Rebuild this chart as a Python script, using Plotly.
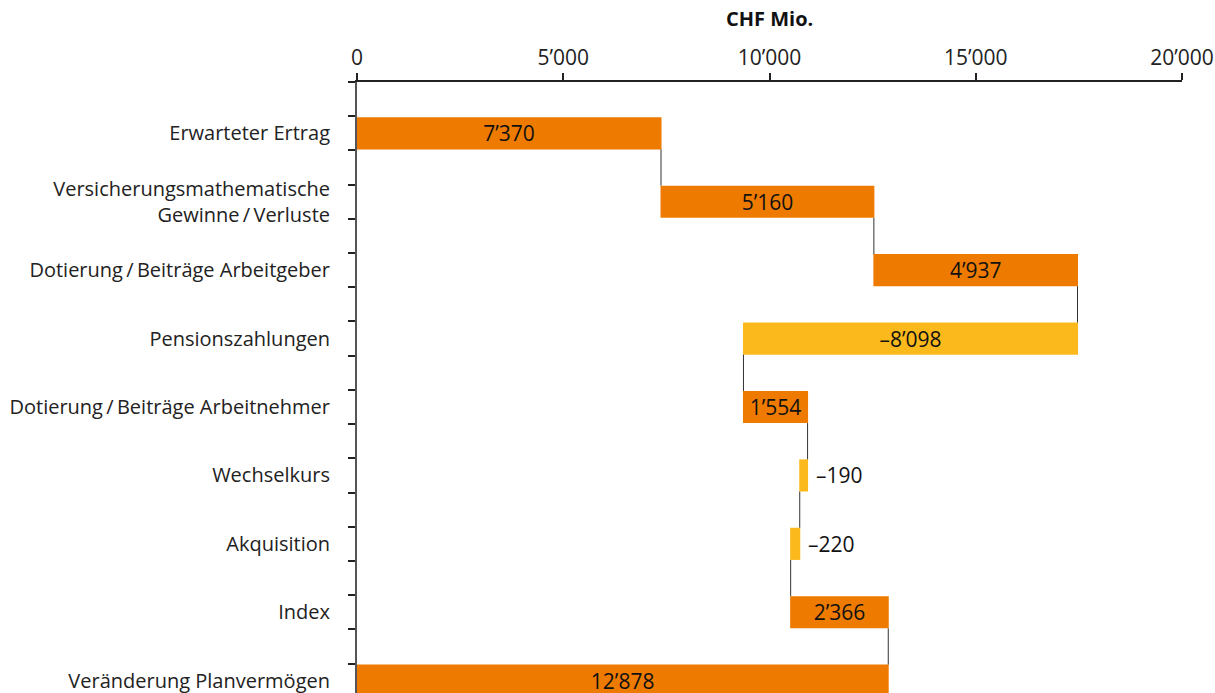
import plotly.graph_objects as go

# Pension asset movement, CHF million
categories = [
    "Erwarteter Ertrag",
    "Versicherungsmathematische<br>Gewinne\u2009/\u2009Verluste",
    "Dotierung\u2009/\u2009Beiträge Arbeitgeber",
    "Pensionszahlungen",
    "Dotierung\u2009/\u2009Beiträge Arbeitnehmer",
    "Wechselkurs",
    "Akquisition",
    "Index",
    "Veränderung Planvermögen",
]
values = [7370, 5160, 4937, -8098, 1554, -190, -220, 2366, 12878]
measures = ["relative"] * 8 + ["absolute"]
value_labels = ["7’370", "5’160", "4’937", "–8’098", "1’554", "–190", "–220", "2’366", "12’878"]
# labels drawn beside the bar (to the right) instead of inside it
outside_labels = [False, False, False, False, False, True, True, False, False]

x_ticks = [0, 5000, 10000, 15000, 20000]
x_tick_labels = ["0", "5’000", "10’000", "15’000", "20’000"]

ORANGE = "#EE7B00"
YELLOW = "#FBB91C"
FONT = "Open Sans"
LABEL_SIZE = 20
NUM_SIZE = 21

positions = list(range(len(categories)))

# running level before each step -> right edge of a decreasing bar
levels_before = []
level = 0
for v, m in zip(values, measures):
    levels_before.append(level)
    level = v if m == "absolute" else level + v

fig = go.Figure(
    go.Waterfall(
        orientation="h",
        y=positions,
        x=values,
        measure=measures,
        text=["" if o else t for t, o in zip(value_labels, outside_labels)],
        textposition="inside",
        insidetextanchor="middle",
        constraintext="none",
        textfont=dict(family=FONT, size=NUM_SIZE, color="#111111"),
        increasing=dict(marker=dict(color=ORANGE)),
        decreasing=dict(marker=dict(color=YELLOW)),
        totals=dict(marker=dict(color=ORANGE)),
        connector=dict(mode="between", line=dict(color="#333333", width=1)),
        width=0.47,
        hoverinfo="skip",
        cliponaxis=False,
    )
)

annotations = [
    dict(
        text="<b>CHF Mio.</b>",
        xref="paper",
        yref="paper",
        x=0.5,
        y=1,
        xanchor="center",
        yanchor="bottom",
        yshift=48,
        showarrow=False,
        font=dict(family=FONT, size=20, color="#111111"),
    )
]
for pos, lab, base, v, o in zip(positions, value_labels, levels_before, values, outside_labels):
    if o:
        annotations.append(
            dict(
                text=lab,
                x=max(base, base + v),
                y=pos,
                xref="x",
                yref="y",
                xanchor="left",
                yanchor="middle",
                xshift=6,
                showarrow=False,
                font=dict(family=FONT, size=NUM_SIZE, color="#111111"),
            )
        )

fig.update_layout(
    width=1215,
    height=693,
    margin=dict(l=357, r=33, t=82, b=0),
    paper_bgcolor="white",
    plot_bgcolor="white",
    showlegend=False,
    font=dict(family=FONT, size=LABEL_SIZE, color="#222222"),
    xaxis=dict(
        side="top",
        range=[0, 20000],
        tickvals=x_ticks,
        ticktext=x_tick_labels,
        ticks="outside",
        ticklen=7,
        tickwidth=1.5,
        tickcolor="#222222",
        showline=True,
        linecolor="#222222",
        linewidth=1.5,
        showgrid=False,
        zeroline=False,
        tickfont=dict(family=FONT, size=NUM_SIZE, color="#222222"),
        fixedrange=True,
    ),
    yaxis=dict(
        range=[8.18, -0.75],
        tickvals=positions,
        ticktext=categories,
        ticks="",
        ticklabelstandoff=21,
        ticklabeloverflow="allow",
        showline=True,
        linecolor="#555555",
        linewidth=2,
        showgrid=False,
        zeroline=False,
        tickfont=dict(family=FONT, size=LABEL_SIZE, color="#222222"),
        minor=dict(
            tickvals=[-0.75 + 0.5 * k for k in range(19)],
            ticks="outside",
            ticklen=7,
            tickwidth=1.5,
            tickcolor="#222222",
            showgrid=False,
        ),
        fixedrange=True,
    ),
    annotations=annotations,
)

fig.write_html("out.html")
